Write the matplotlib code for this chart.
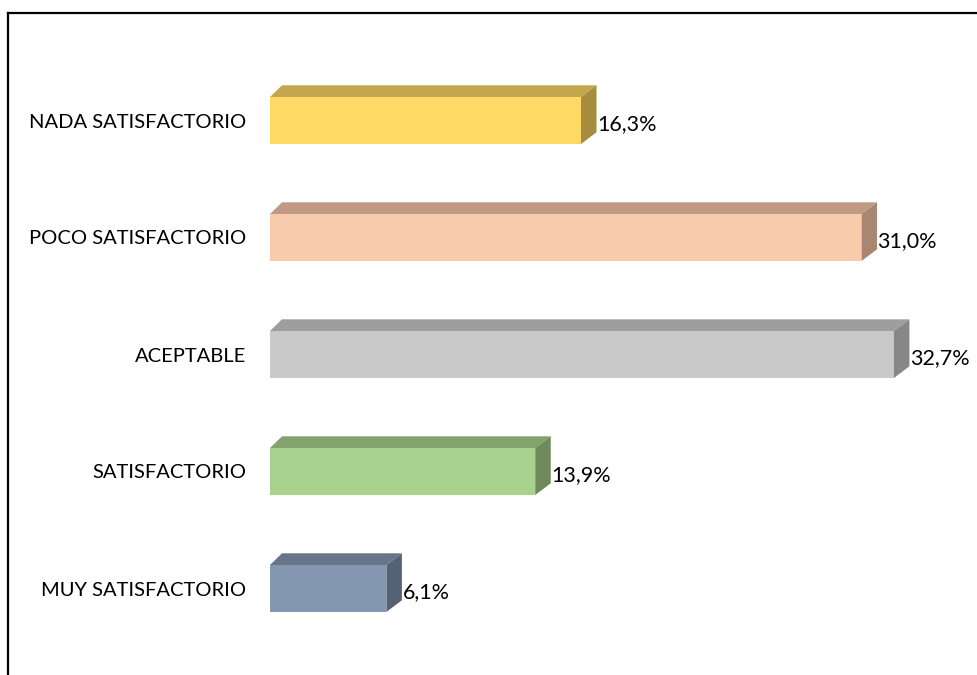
import matplotlib.pyplot as plt
from matplotlib.patches import Polygon
from matplotlib.lines import Line2D

# datos (de abajo hacia arriba)
categorias = ['MUY SATISFACTORIO', 'SATISFACTORIO', 'ACEPTABLE',
              'POCO SATISFACTORIO', 'NADA SATISFACTORIO']
porcentajes = [6.1, 13.9, 32.7, 31.0, 16.3]
etiquetas = ['6,1%', '13,9%', '32,7%', '31,0%', '16,3%']

col_frente = ['#8497B0', '#A9D18E', '#C9C9C9', '#F8CBAD', '#FFD966']
col_arriba = ['#65758A', '#82A36B', '#9E9E9E', '#C09A85', '#C4A74C']
col_lado = ['#556275', '#6E8A5B', '#878787', '#A88670', '#A68D3E']

W, H = 977, 675
fig = plt.figure(figsize=(W / 100, H / 100), dpi=100)
plt.rcParams['font.family'] = ['Lato', 'DejaVu Sans']

# ejes: x=0 en px 270, 19.08 px por punto; categorias cada 117 px
px_x = 19.08
px_y = 117.0
ax_l, ax_r = 270, 960
ax = fig.add_axes([ax_l / W, 0, (ax_r - ax_l) / W, (H - 13) / H])
ax.set_xlim(0, (ax_r - ax_l) / px_x)
y_top = 4 + (120.5 - 13) / px_y
y_bot = 0 - (H - 588.5) / px_y
ax.set_ylim(y_bot, y_top)

alto = 47 / px_y
h = alto / 2
dxl = 12 / px_x
dxr = 15.5 / px_x
dy = 11.7 / px_y

pos = list(range(len(categorias)))
ax.barh(pos, porcentajes, height=alto, color=col_frente, linewidth=0, zorder=2)
for c, v, ca, cl in zip(pos, porcentajes, col_arriba, col_lado):
    arriba = [(0, c + h), (v, c + h), (v + dxr, c + h + dy), (dxl, c + h + dy)]
    lado = [(v, c - h), (v, c + h), (v + dxr, c + h + dy), (v + dxr, c - h + dy)]
    ax.add_patch(Polygon(arriba, closed=True, facecolor=ca, linewidth=0, zorder=2))
    ax.add_patch(Polygon(lado, closed=True, facecolor=cl, linewidth=0, zorder=2))

for c, v, t in zip(pos, porcentajes, etiquetas):
    ax.text(v + dxr + 0.03, c - 0.03, t, va='center', ha='left',
            fontsize=15.5, color='#000000')

ax.set_yticks(pos, categorias)
for lbl in ax.get_yticklabels():
    lbl.set_y(lbl.get_position()[1])
ax.tick_params(axis='y', length=0, pad=17, labelsize=14.5)
ax.set_xticks([])
for s in ax.spines.values():
    s.set_visible(False)
ax.patch.set_alpha(0)

# borde del recuadro (solo izquierda y arriba visibles)
fig.add_artist(Line2D([8 / W, 8 / W], [0, (H - 13) / H], color='black',
                      linewidth=1.6, transform=fig.transFigure))
fig.add_artist(Line2D([8 / W, 1], [(H - 13) / H, (H - 13) / H], color='black',
                      linewidth=1.6, transform=fig.transFigure))

fig.savefig('out.png', dpi=100)
